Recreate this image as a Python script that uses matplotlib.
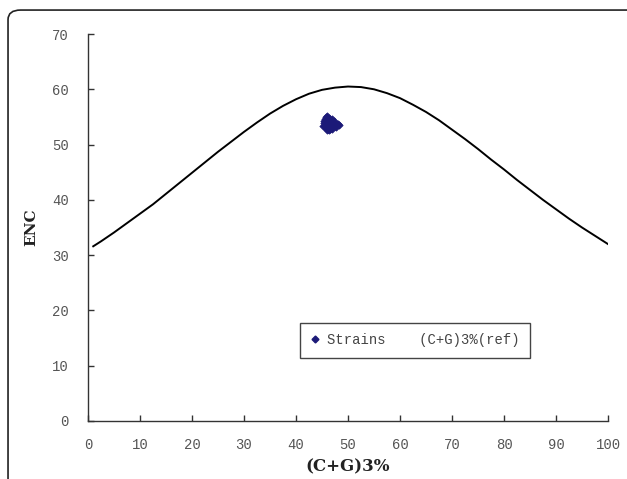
import matplotlib.pyplot as plt
from matplotlib.patches import FancyBboxPatch
from matplotlib.lines import Line2D

# courbe attendue (C+G)3% -> ENC
gc3_ref = [1, 2.5, 5, 7.5, 10, 12.5, 15, 17.5, 20, 22.5, 25, 27.5, 30, 32.5, 35,
           37.5, 40, 42.5, 45, 47.5, 50, 52.5, 55, 57.5, 60, 62.5, 65, 67.5, 70,
           72.5, 75, 77.5, 80, 82.5, 85, 87.5, 90, 92.5, 95, 97.5, 100]
enc_ref = [31.6, 32.5, 34.1, 35.8, 37.5, 39.2, 41.1, 43.0, 44.9, 46.8, 48.7,
           50.5, 52.3, 54.0, 55.6, 57.0, 58.2, 59.2, 59.9, 60.3, 60.5, 60.4,
           60.0, 59.3, 58.4, 57.2, 55.9, 54.4, 52.7, 51.0, 49.2, 47.3, 45.5,
           43.6, 41.8, 40.0, 38.3, 36.6, 35.0, 33.5, 32.0]

# souches (nuage de points)
gc3_strains = [45.2, 45.5, 45.8, 46.0, 46.3, 46.6, 46.9, 47.2, 47.5, 47.8,
               48.2, 45.4, 45.9, 46.4, 46.8, 47.3, 47.7, 45.6, 46.1, 46.7,
               47.0, 45.3, 46.2, 47.4, 46.5, 45.7, 48.0, 46.9, 45.9, 46.3]
enc_strains = [53.3, 54.6, 53.0, 55.2, 53.6, 52.8, 54.2, 53.9, 53.4, 53.8,
               53.6, 53.9, 54.0, 54.8, 53.1, 54.3, 53.2, 53.5, 52.9, 54.0,
               52.8, 54.2, 53.4, 53.7, 53.5, 55.0, 53.7, 54.6, 52.6, 52.7]

plt.rcParams["font.size"] = 10

fig = plt.figure(figsize=(6.27, 4.79), dpi=100)

# cadre arrondi autour de la figure
cadre = FancyBboxPatch((0.0128, -0.05), 1.1, 1.029, transform=fig.transFigure,
                       boxstyle="round,pad=0,rounding_size=0.02",
                       fc='none', ec='#222222', lw=1.2)
fig.patches.append(cadre)

ax = fig.add_axes([0.1404, 0.1211, 0.8293, 0.8079])
ax.plot(gc3_ref, enc_ref, color='black', lw=1.4)
ax.scatter(gc3_strains, enc_strains, marker='D', s=14, color='#1c1a78',
           edgecolors='#1c1a78', linewidths=0.5, zorder=3)

ax.set_xlim(0, 100)
ax.set_ylim(0, 70)
ax.set_xticks(range(0, 101, 10))
ax.set_yticks(range(0, 71, 10))
for s in ['top', 'right']:
    ax.spines[s].set_visible(False)
for s in ['left', 'bottom']:
    ax.spines[s].set_linewidth(1.0)
    ax.spines[s].set_color('#333333')
ax.tick_params(direction='in', length=4, width=1, colors='#333333',
               labelcolor='#555555')
ax.tick_params(axis='x', pad=12)
ax.tick_params(axis='y', pad=14)
for lab in ax.get_xticklabels() + ax.get_yticklabels():
    lab.set_family('Liberation Mono')
    lab.set_fontsize(10)

ax.set_xlabel('(C+G)3%', family='DejaVu Serif', fontweight='bold',
              fontsize=12, color='#222222', labelpad=5)
ax.set_ylabel('ENC', family='DejaVu Serif', fontweight='bold',
              fontsize=11, color='#222222', labelpad=10)

h1 = Line2D([], [], marker='D', ls='none', color='#1c1a78', markersize=3.5)
leg = ax.legend([h1], ['Strains    (C+G)3%(ref)'],
                loc='center', bbox_to_anchor=(0.628, 0.209),
                fancybox=False, edgecolor='#444444',
                framealpha=1, handlelength=0.8, handletextpad=0.4,
                borderpad=0.75, borderaxespad=0,
                prop={'family': 'Liberation Mono', 'size': 10})
leg.get_frame().set_linewidth(1.0)
for t in leg.get_texts():
    t.set_color('#444444')

fig.savefig('out.png', dpi=100)
